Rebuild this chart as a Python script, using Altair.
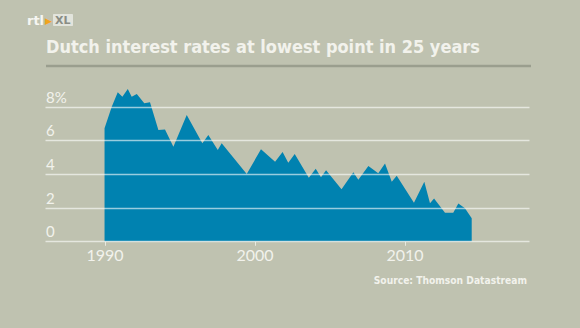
import altair as alt
import pandas as pd

# Dutch long-term interest rate (%)
years = [1990.0, 1990.48, 1990.88, 1991.19, 1991.55, 1991.81, 1992.15, 1992.65, 1993.03,
         1993.59, 1994.03, 1994.59, 1995.48, 1996.52, 1996.92, 1997.55, 1997.81, 1999.48,
         2000.43, 2001.37, 2001.87, 2002.25, 2002.68, 2003.62, 2004.08, 2004.43, 2004.77,
         2005.8, 2006.59, 2006.92, 2007.59, 2008.25, 2008.7, 2009.15, 2009.48, 2010.63,
         2011.32, 2011.7, 2011.97, 2012.7, 2013.25, 2013.59, 2014.03, 2014.48]
rates = [6.71, 8.0, 8.85, 8.59, 9.05, 8.59, 8.75, 8.2, 8.26,
         6.61, 6.65, 5.62, 7.5, 5.82, 6.32, 5.42, 5.82, 4.0,
         5.47, 4.73, 5.3, 4.67, 5.19, 3.77, 4.31, 3.8, 4.22,
         3.1, 4.1, 3.66, 4.48, 4.04, 4.63, 3.54, 3.9, 2.29,
         3.54, 2.26, 2.55, 1.7, 1.7, 2.24, 1.96, 1.37]

x_ticks = [1990, 2000, 2010]
y_ticks = [0, 2, 4, 6, 8]
y_labels = ["0", "2", "4", "6", "8%"]

title_text = "Dutch interest rates at lowest point in 25 years"
source_text = "Source: Thomson Datastream"

BG = "#bfc2b0"
AREA = "#0082b0"
TXT = "#f2f2ec"
COND = "DejaVu Sans Condensed, Roboto, sans-serif"

df = pd.DataFrame({"year": years, "rate": rates})
ylab = pd.DataFrame({"rate": y_ticks, "label": y_labels})
one = pd.DataFrame({"k": [0]})

x_scale = alt.Scale(domain=[1986.03, 2018.3], nice=False, zero=False)
y_scale = alt.Scale(domain=[0, 10], nice=False)

x_enc = alt.X(
    "year:Q", scale=x_scale,
    axis=alt.Axis(
        values=x_ticks, format="d", title=None, grid=False, domain=False,
        ticks=True, tickSize=4, tickColor="#e8e9e0", tickWidth=1,
        labelPadding=2, labelFontSize=16, labelColor=TXT, labelFont="Lato",
        labelFlush=False, labelOverlap=False,
    ),
)
y_enc = alt.Y(
    "rate:Q", scale=y_scale,
    axis=alt.Axis(
        values=y_ticks, title=None, domain=False, ticks=False, labels=False,
        grid=True, gridColor="white", gridOpacity=0.6, gridWidth=1.6, zindex=1,
    ),
)

area = alt.Chart(df).mark_area(color=AREA, interpolate="linear", opacity=1).encode(
    x=x_enc, y=y_enc
)

ylabels = alt.Chart(ylab).mark_text(
    align="left", baseline="alphabetic", dy=-4, fontSize=15, font="Lato", color=TXT,
).encode(x=alt.value(1), y=alt.Y("rate:Q", scale=y_scale), text="label:N")

title = alt.Chart(one).mark_text(
    text=title_text, align="left", baseline="alphabetic", fontSize=18,
    fontWeight="bold", font=COND, color=TXT,
).encode(x=alt.value(1), y=alt.value(-19.5))

rule = alt.Chart(one).mark_rule(color="#9a9e8e", strokeWidth=2.5).encode(
    x=alt.value(1), x2=alt.value(486), y=alt.value(-7)
)

source = alt.Chart(one).mark_text(
    text=source_text, align="right", baseline="alphabetic", fontSize=10.2,
    fontWeight="bold", font=COND, color=TXT,
).encode(x=alt.value(482), y=alt.value(211))

logo_box = alt.Chart(one).mark_rect(color="#e2e4dc", cornerRadius=1).encode(
    x=alt.value(8), x2=alt.value(28), y=alt.value(-59), y2=alt.value(-47)
)

logo_rtl = alt.Chart(one).mark_text(
    text="rtl", align="left", baseline="alphabetic", fontSize=13,
    fontWeight="bold", font="DejaVu Sans", color="#f6f6f2",
).encode(x=alt.value(-18), y=alt.value(-48))

logo_tri = alt.Chart(one).mark_text(
    text="▶", align="left", baseline="alphabetic", fontSize=9,
    font="DejaVu Sans", color="#f0a41e",
).encode(x=alt.value(0), y=alt.value(-49))

logo_xl = alt.Chart(one).mark_text(
    text="XL", align="left", baseline="alphabetic", fontSize=11,
    fontWeight="bold", font="DejaVu Sans", color="#8a8d84",
).encode(x=alt.value(10), y=alt.value(-49))

chart = alt.layer(area, ylabels, rule, title, source, logo_box, logo_rtl, logo_tri, logo_xl).properties(
    width=484,
    height=168.3,
    autosize=alt.AutoSizeParams(type="none"),
    padding={"left": 45, "top": 73, "right": 51, "bottom": 87},
    background=BG,
).configure_view(stroke=None)

chart.save("out.html", embed_options={"renderer": "svg", "actions": False})
